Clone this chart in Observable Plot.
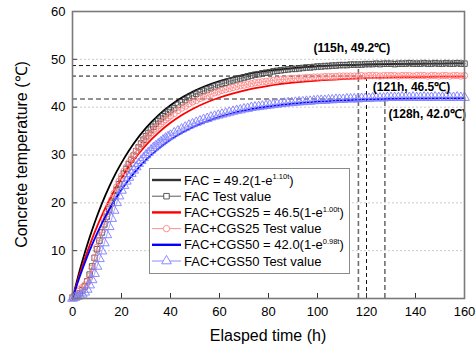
<!DOCTYPE html>
<html><head><meta charset="utf-8">
<script src="https://cdn.jsdelivr.net/npm/d3@7"></script>
<script src="https://cdn.jsdelivr.net/npm/@observablehq/plot@0.6"></script>
<style>body{margin:0;background:#fff} #chart{width:476px;height:350px}</style>
</head><body><div id="chart"></div>
<script>
// ---- data ----
const fitTime = [0,2,4,6,8,10,12,15,18,21,25,30,35,40,45,50,60,70,80,90,100,110,120,130,140,150,160];
const facFit   = [0,4.05,7.77,11.19,14.32,17.2,19.83,23.38,26.51,29.25,32.41,35.66,38.28,40.39,42.1,43.47,45.47,46.77,47.62,48.17,48.53,48.77,48.92,49.02,49.08,49.12,49.15];
const cgs25Fit = [0,3.49,6.71,9.7,12.46,15.02,17.38,20.59,23.45,26.0,28.96,32.07,34.62,36.73,38.46,39.88,42.02,43.47,44.45,45.11,45.56,45.86,46.07,46.21,46.3,46.37,46.41];
const cgs50Fit = [0,3.15,6.06,8.76,11.26,13.57,15.7,18.6,21.18,23.48,26.16,28.96,31.27,33.18,34.74,36.02,37.96,39.26,40.14,40.74,41.15,41.42,41.61,41.74,41.82,41.88,41.92];

// test readings: hourly to 40 h, then every 1.5 h
const testTime = [...d3.range(0, 41, 1), ...d3.range(41.5, 160.01, 1.5)];
const facTest = [0.2,0.4,0.7,1.1,1.7,2.5,3.6,5.0,6.7,8.5,10.3,12.1,13.8,15.5,17.1,18.6,20.0,21.4,22.7,23.9,25.0,26.1,27.1,28.1,29.0,29.9,30.8,31.6,32.4,33.2,33.9,34.6,35.3,35.9,36.5,37.1,37.6,38.1,38.6,39.0,39.4,
  39.8,40.5,41.0,41.5,42.0,42.4,42.8,43.1,43.4,43.7,
  44.0,44.3,44.6,44.9,45.1,45.4,45.6,45.8,46.0,46.2,
  46.4,46.6,46.8,46.9,47.1,47.2,47.3,47.5,47.6,47.7,
  47.8,47.9,48.0,48.0,48.1,48.2,48.3,48.3,48.4,48.5,
  48.5,48.6,48.6,48.7,48.7,48.8,48.8,48.8,48.9,48.9,
  48.9,48.9,49.0,49.0,49.0,49.1,49.0,49.1,49.1,49.1,
  49.0,49.1,49.1,49.1,49.2,49.1,49.1,49.1,49.2,49.1,
  49.1,49.2,49.1,49.1,49.2,49.1,49.1,49.2,49.1,49.1];
const cgs25Test = [0.3,1.0,1.5,1.9,2.3,2.8,3.5,4.6,6.3,8.5,10.7,12.7,14.4,16.1,17.7,19.3,20.7,22.0,23.3,24.5,25.6,26.6,27.5,28.4,29.2,30.0,30.8,31.5,32.2,32.9,33.5,34.1,34.6,35.1,35.6,36.1,36.5,37.0,37.4,37.8,38.2,
  38.7,39.3,39.8,40.2,40.7,41.1,41.4,41.8,42.1,42.4,
  42.7,43.0,43.2,43.5,43.7,43.9,44.1,44.3,44.5,44.6,
  44.8,44.9,45.1,45.2,45.3,45.4,45.5,45.6,45.7,45.8,
  45.8,45.9,46.0,46.0,46.1,46.1,46.2,46.2,46.3,46.3,
  46.3,46.4,46.4,46.4,46.4,46.5,46.5,46.5,46.5,46.5,
  46.5,46.6,46.5,46.6,46.6,46.6,46.5,46.6,46.6,46.6,
  46.6,46.5,46.6,46.6,46.6,46.5,46.6,46.6,46.6,46.5,
  46.6,46.6,46.5,46.6,46.6,46.5,46.6,46.6,46.5,46.6];
const cgs50Test = [0,0.2,0.4,0.6,0.9,1.3,1.9,2.8,3.9,5.2,6.7,8.3,9.9,11.6,13.3,15.0,16.7,18.4,20.0,21.4,22.6,23.6,24.5,25.3,26.1,26.8,27.5,28.2,28.8,29.4,30.0,30.5,31.0,31.5,31.9,32.3,32.7,33.1,33.5,33.8,34.1,
  34.6,35.0,35.4,35.8,36.2,36.5,36.8,37.1,37.4,37.6,
  37.9,38.1,38.3,38.5,38.7,38.9,39.1,39.3,39.4,39.6,
  39.7,39.9,40.0,40.1,40.2,40.3,40.4,40.5,40.6,40.7,
  40.8,40.9,40.9,41.0,41.1,41.1,41.2,41.2,41.3,41.4,
  41.4,41.4,41.5,41.5,41.6,41.6,41.6,41.7,41.7,41.7,
  41.7,41.8,41.8,41.8,41.9,41.9,41.9,41.9,42.0,42.0,
  42.0,42.0,42.1,42.0,42.0,42.1,42.0,42.0,42.1,42.0,
  42.0,42.1,42.0,42.0,42.1,42.0,42.0,42.1,42.0,42.0];

const xTicks = [0,20,40,60,80,100,120,140,160];
const yTicks = [0,10,20,30,40,50,60];
const gridY = [10,20,30,40,50];
const refTime = [116.7,120,127.5];
const refTemp = [48.7,46.5,41.7];
const annoText = ["(115h, 49.2\u2103)","(121h, 46.5\u2103)","(128h, 42.0\u2103)"];
const annoX = [114, 122.6, 129];
const annoY = [52.3, 44.1, 38.5];
const xLabel = "Elasped time (h)";
const yLabel = "Concrete temperature (\u2103)";
const legendMain = ["FAC = 49.2(1-e", "FAC Test value", "FAC+CGS25 = 46.5(1-e", "FAC+CGS25 Test value", "FAC+CGS50 = 42.0(1-e", "FAC+CGS50 Test value"];
const legendSup = ["1.10t", "", "1.00t", "", "0.98t", ""];

// ---- build ----
const FONT = "'Liberation Sans', Arial, Helvetica, sans-serif";
const fitRows = (vals) => fitTime.map((t, i) => ({t, v: vals[i]}));
const testRows = (vals) => testTime.map((t, i) => ({t, v: vals[i]}));
const refRows = refTime.map((t, i) => ({t, v: refTemp[i], i}));
const annoRows = annoText.map((s, i) => ({s, x: annoX[i], y: annoY[i], i}));

const C = {
  fac: "#000000", facT: "#484848",
  r: "#ff0000", rT: "#ff8585",
  b: "#0000ff", bT: "#7f7fff"
};

const plot = Plot.plot({
  width: 476, height: 350,
  marginLeft: 72, marginRight: 12, marginTop: 11, marginBottom: 52,
  style: {fontFamily: FONT, fontSize: "13px", color: "#000", background: "#fff", overflow: "visible"},
  x: {domain: [0, 160]},
  y: {domain: [0, 60]},
  marks: [
    Plot.ruleY(gridY, {stroke: "#bdbdbd", strokeWidth: 0.8, strokeDasharray: "2,2"}),
    // reference dashed lines
    Plot.ruleY(refRows.filter(d => d.i < 2), {y: "v", x1: 0, x2: "t", stroke: "#111", strokeWidth: 1, strokeDasharray: "4,3"}),
    Plot.ruleY(refRows.filter(d => d.i === 2), {y: "v", x1: 0, x2: "t", stroke: "#707070", strokeWidth: 1.6, strokeDasharray: "5,3"}),
    Plot.ruleX(refRows.filter(d => d.i === 1), {x: "t", y1: 0, y2: "v", stroke: "#111", strokeWidth: 1, strokeDasharray: "4,3"}),
    Plot.ruleX(refRows.filter(d => d.i !== 1), {x: "t", y1: 0, y2: "v", stroke: "#707070", strokeWidth: 1.6, strokeDasharray: "5,3"}),
    // FAC
    Plot.line(fitRows(facFit), {x: "t", y: "v", stroke: C.fac, strokeWidth: 1.8, curve: "monotone-x"}),
    Plot.line(testRows(facTest), {x: "t", y: "v", stroke: C.facT, strokeWidth: 0.7}),
    Plot.dot(testRows(facTest), {x: "t", y: "v", symbol: "square", r: 3.1, stroke: C.facT, strokeWidth: 0.9, fill: "none"}),
    // CGS25
    Plot.line(fitRows(cgs25Fit), {x: "t", y: "v", stroke: C.r, strokeWidth: 1.8, curve: "monotone-x"}),
    Plot.line(testRows(cgs25Test), {x: "t", y: "v", stroke: C.rT, strokeWidth: 0.7}),
    Plot.dot(testRows(cgs25Test), {x: "t", y: "v", symbol: "circle", r: 3.2, stroke: C.rT, strokeWidth: 0.9, fill: "none"}),
    // CGS50
    Plot.line(fitRows(cgs50Fit), {x: "t", y: "v", stroke: C.b, strokeWidth: 1.8, curve: "monotone-x"}),
    Plot.line(testRows(cgs50Test), {x: "t", y: "v", stroke: C.bT, strokeWidth: 0.7}),
    Plot.dot(testRows(cgs50Test), {x: "t", y: "v", symbol: "triangle", r: 3.6, stroke: C.bT, strokeWidth: 0.9, fill: "none"}),
    // annotations
    Plot.text(annoRows.filter(d => d.i === 0), {x: "x", y: "y", text: "s", textAnchor: "middle", fontWeight: "bold", fontSize: 12, fill: "#000"}),
    Plot.text(annoRows.filter(d => d.i > 0), {x: "x", y: "y", text: "s", textAnchor: "start", fontWeight: "bold", fontSize: 12, fill: "#000"}),
    // inner ticks
    Plot.ruleX(xTicks, {x: d => d, y1: 0, y2: 1.05, stroke: "#333", strokeWidth: 1}),
    Plot.ruleY(yTicks, {y: d => d, x1: 0, x2: 2.0, stroke: "#333", strokeWidth: 1}),
    Plot.axisX({ticks: xTicks, tickSize: 0, tickPadding: 8, label: null, fontSize: 13}),
    Plot.axisY({ticks: yTicks, tickSize: 0, tickPadding: 7, label: null, fontSize: 13}),
    Plot.frame({stroke: "#7a7a7a", strokeWidth: 1.6})
  ]
});

document.getElementById("chart").appendChild(plot);

// ---- titles & legend (layout) ----
const svg = d3.select(plot);
svg.append("text").attr("x", 268).attr("y", 341).attr("text-anchor", "middle")
  .attr("font-family", FONT).attr("font-size", 16).attr("fill", "#000").text(xLabel);
svg.append("text").attr("transform", "translate(27,154.5) rotate(-90)").attr("text-anchor", "middle")
  .attr("font-family", FONT).attr("font-size", 16).attr("fill", "#000").text(yLabel);

const lg = svg.append("g").attr("text-anchor", "start");
lg.append("rect").attr("x", 149.5).attr("y", 168.5).attr("width", 200).attr("height", 105)
  .attr("fill", "#fff").attr("stroke", "#8a8a8a").attr("stroke-width", 1);
const rowY = [180, 196.2, 212.4, 228.6, 244.8, 261];
const lineStyle = [
  {c: "#333", w: 2.4}, {c: C.facT, w: 0.9, m: "square"},
  {c: C.r, w: 2.4}, {c: C.rT, w: 0.9, m: "circle"},
  {c: C.b, w: 2.4}, {c: C.bT, w: 0.9, m: "triangle"}
];
const symMap = {square: d3.symbolSquare, circle: d3.symbolCircle, triangle: d3.symbolTriangle};
const symR = {square: 3.1, circle: 3.2, triangle: 3.6};
legendMain.forEach((txt, i) => {
  const y = rowY[i], st = lineStyle[i];
  lg.append("line").attr("x1", 152).attr("x2", 181).attr("y1", y).attr("y2", y)
    .attr("stroke", st.c).attr("stroke-width", st.w);
  if (st.m) {
    const r = symR[st.m];
    lg.append("path").attr("d", d3.symbol(symMap[st.m], Math.PI * r * r)())
      .attr("transform", `translate(166.5,${y})`).attr("fill", "#fff").attr("stroke", st.c).attr("stroke-width", 0.9);
  }
  const t = lg.append("text").attr("x", 184).attr("y", y).attr("dy", "0.36em").attr("text-anchor", "start")
    .attr("font-family", FONT).attr("font-size", 13).attr("fill", "#000");
  t.append("tspan").text(txt);
  if (legendSup[i]) {
    t.append("tspan").attr("font-size", 7.5).attr("dy", -5.5).text(legendSup[i]);
    t.append("tspan").attr("dy", 5.5).text(")");
  }
});
</script>
</body></html>
